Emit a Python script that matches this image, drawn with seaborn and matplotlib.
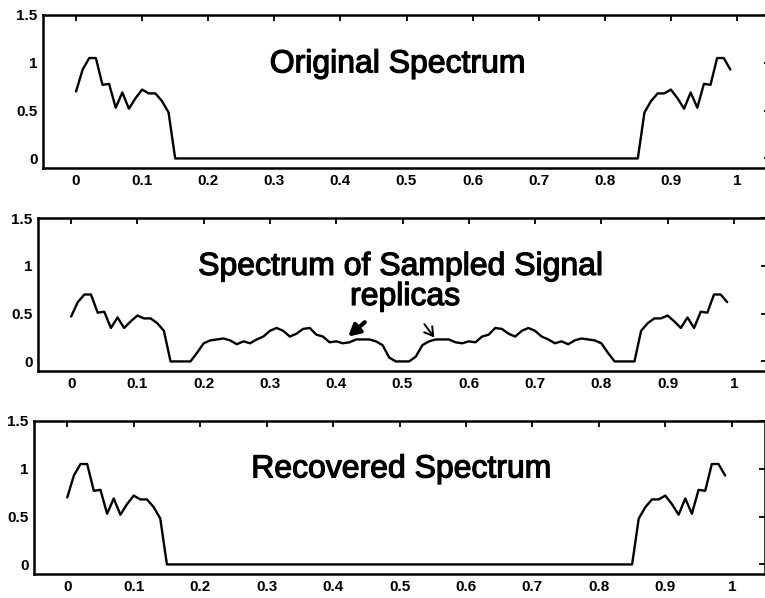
import numpy as np
import pandas as pd
import matplotlib
matplotlib.use("Agg")
import matplotlib.pyplot as plt
import matplotlib.patheffects as pe
import seaborn as sns

# Normalised frequency grid (100 bins, 0 ... 0.99)
freq = np.round(np.arange(100) * 0.01, 2)

# Magnitude of the original spectrum: low band (0.00-0.15), stop band, high band (0.85-0.99)
original_low = [0.70, 0.93, 1.05, 1.05, 0.77, 0.78, 0.53, 0.69, 0.52, 0.63,
                0.72, 0.68, 0.68, 0.60, 0.48, 0.00]
original_stop = [0.0] * 69
original_high = [0.00, 0.48, 0.60, 0.68, 0.68, 0.72, 0.63, 0.52, 0.69, 0.53,
                 0.78, 0.77, 1.05, 1.05, 0.93]

# Magnitude of the spectrum of the sampled signal (baseband plus replicas)
sampled_mag = [
    0.47, 0.62, 0.70, 0.70, 0.51, 0.52, 0.35, 0.46, 0.35, 0.42,
    0.48, 0.45, 0.45, 0.40, 0.32, 0.00, 0.00, 0.00, 0.00, 0.09,
    0.19, 0.22, 0.23, 0.24, 0.22, 0.18, 0.21, 0.19, 0.23, 0.26,
    0.32, 0.35, 0.32, 0.26, 0.29, 0.34, 0.35, 0.28, 0.26, 0.20,
    0.21, 0.19, 0.20, 0.23, 0.23, 0.23, 0.21, 0.17, 0.04, 0.00,
    0.00, 0.00, 0.05, 0.17, 0.21, 0.23, 0.23, 0.23, 0.20, 0.19,
    0.21, 0.20, 0.26, 0.28, 0.35, 0.34, 0.29, 0.26, 0.32, 0.35,
    0.32, 0.26, 0.23, 0.19, 0.21, 0.18, 0.22, 0.24, 0.23, 0.22,
    0.19, 0.09, 0.00, 0.00, 0.00, 0.00, 0.32, 0.40, 0.45, 0.45,
    0.48, 0.42, 0.35, 0.46, 0.35, 0.52, 0.51, 0.70, 0.70, 0.62,
]

# Magnitude of the recovered spectrum (after low-pass filtering)
recovered_low = [0.70, 0.93, 1.05, 1.05, 0.77, 0.78, 0.53, 0.69, 0.52, 0.63,
                 0.72, 0.68, 0.68, 0.60, 0.48, 0.00]
recovered_stop = [0.0] * 69
recovered_high = [0.00, 0.48, 0.60, 0.68, 0.68, 0.72, 0.63, 0.52, 0.69, 0.53,
                  0.78, 0.77, 1.05, 1.05, 0.93]

panel_titles = ["Original Spectrum", "Spectrum of Sampled Signal", "Recovered Spectrum"]
xtick_values = [0, 0.1, 0.2, 0.3, 0.4, 0.5, 0.6, 0.7, 0.8, 0.9, 1]
xtick_labels = ["0", "0.1", "0.2", "0.3", "0.4", "0.5", "0.6", "0.7", "0.8", "0.9", "1"]
ytick_values = [0, 0.5, 1, 1.5]
ytick_labels = ["0", "0.5", "1", "1.5"]

df = pd.DataFrame({
    "freq": freq,
    "original": original_low + original_stop + original_high,
    "sampled": sampled_mag,
    "recovered": recovered_low + recovered_stop + recovered_high,
})

sns.set_theme(style="white")
plt.rcParams["font.family"] = ["Liberation Sans", "DejaVu Sans"]

W, H = 765, 598
fig = plt.figure(figsize=(W / 100, H / 100), dpi=100)

# panel boxes in pixels: left, top, right, bottom
boxes = [(43, 15, 770, 168), (38, 218, 767, 371), (34, 421, 765, 574)]
axes = []
for (l, t, r, b) in boxes:
    ax = fig.add_axes([l / W, 1 - b / H, (r - l) / W, (b - t) / H])
    axes.append(ax)

for ax, col in zip(axes, ["original", "sampled", "recovered"]):
    sns.lineplot(data=df, x="freq", y=col, ax=ax, color="black", linewidth=1.7)
    ax.set_xlim(-0.05, 1.05)
    ax.set_ylim(-0.1, 1.5)
    ax.set_xticks(xtick_values)
    ax.set_xticklabels(xtick_labels)
    ax.set_yticks(ytick_values)
    ax.set_yticklabels(ytick_labels)
    ax.set_xlabel("")
    ax.set_ylabel("")
    ax.tick_params(direction="in", top=True, right=True, length=4, width=1.3,
                   labelsize=11, pad=4, colors="black")
    for lab in ax.get_xticklabels() + ax.get_yticklabels():
        lab.set_fontweight("bold")
    for sp in ax.spines.values():
        sp.set_visible(True)
        sp.set_color("black")
        sp.set_linewidth(1.8)
    ax.grid(False)

heavy = [pe.withStroke(linewidth=0.9, foreground="black")]
title_kw = dict(ha="center", va="baseline", fontsize=23, color="black", path_effects=heavy)
axes[0].text(0.487, 0.90, panel_titles[0], **title_kw)
axes[1].text(0.498, 0.905, panel_titles[1], **title_kw)
axes[1].text(0.504, 0.59, "replicas", **title_kw)
axes[2].text(0.503, 0.91, panel_titles[2], **title_kw)

# arrows pointing at the two replicas
axes[1].annotate("", xy=(0.418, 0.26), xytext=(0.443, 0.41),
                 arrowprops=dict(arrowstyle="-|>,head_length=0.55,head_width=0.3",
                                 color="black", lw=3.0, shrinkA=0, shrinkB=0))
axes[1].annotate("", xy=(0.548, 0.25), xytext=(0.533, 0.39),
                 arrowprops=dict(arrowstyle="->,head_length=0.5,head_width=0.3",
                                 color="black", lw=1.4, shrinkA=0, shrinkB=0))

fig.savefig("out.png", dpi=100, facecolor="white")
